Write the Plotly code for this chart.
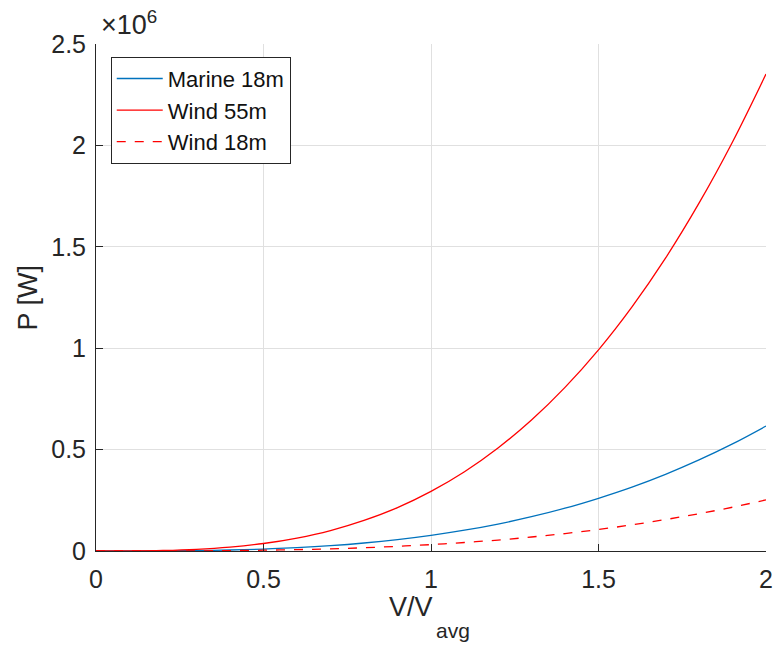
import plotly.graph_objects as go

v_ratio = [0.0, 0.1, 0.2, 0.3, 0.4, 0.5, 0.6, 0.7, 0.8, 0.9, 1.0,
           1.1, 1.2, 1.3, 1.4, 1.5, 1.6, 1.7, 1.8, 1.9, 2.0]
marine_18m = [0, 0.0001, 0.0006, 0.0021, 0.0049, 0.0096, 0.0166, 0.0264, 0.0394, 0.0561, 0.077,
              0.1025, 0.133, 0.169, 0.211, 0.260, 0.315, 0.378, 0.449, 0.528, 0.616]
wind_55m = [0, 0.0003, 0.0024, 0.008, 0.019, 0.037, 0.064, 0.101, 0.151, 0.214, 0.294,
            0.391, 0.508, 0.646, 0.807, 0.992, 1.204, 1.444, 1.715, 2.017, 2.352]
wind_18m = [0, 0.00003, 0.0003, 0.0009, 0.002, 0.0039, 0.0068, 0.0108, 0.0161, 0.023, 0.0315,
            0.042, 0.054, 0.069, 0.086, 0.106, 0.129, 0.155, 0.184, 0.216, 0.252]
x_ticks = [0, 0.5, 1, 1.5, 2]
y_ticks = [0, 0.5, 1, 1.5, 2, 2.5]

font = "Liberation Sans, Arial, sans-serif"
ink = "#262626"

fig = go.Figure()
fig.add_trace(go.Scatter(x=v_ratio, y=marine_18m, mode="lines", name="Marine 18m",
                         line=dict(color="#0072BD", width=1.3, shape="spline")))
fig.add_trace(go.Scatter(x=v_ratio, y=wind_55m, mode="lines", name="Wind 55m",
                         line=dict(color="#FF0000", width=1.3, shape="spline")))
fig.add_trace(go.Scatter(x=v_ratio, y=wind_18m, mode="lines", name="Wind 18m",
                         line=dict(color="#FF0000", width=1.3, dash="dash", shape="spline")))

axis_common = dict(showgrid=True, gridcolor="#e0e0e0", gridwidth=1,
                   showline=True, linecolor=ink, linewidth=1,
                   ticks="inside", ticklen=7, tickcolor=ink,
                   tickfont=dict(family=font, size=25, color=ink),
                   zeroline=False, automargin=False)

fig.update_layout(
    width=777, height=646,
    margin=dict(l=96, r=11, t=44, b=95),
    plot_bgcolor="white", paper_bgcolor="white",
    xaxis=dict(range=[0, 2], tickvals=x_ticks, ticktext=[str(t) for t in x_ticks],
               ticklabelstandoff=6, **axis_common),
    yaxis=dict(range=[0, 2.5], tickvals=y_ticks, ticktext=[str(t) for t in y_ticks],
               ticklabelstandoff=4, **axis_common),
    legend=dict(x=0.022, y=0.975, xanchor="left", yanchor="top",
                bgcolor="white", bordercolor=ink, borderwidth=1,
                font=dict(family=font, size=22, color="#111111"),
                tracegroupgap=0, itemwidth=46),
    showlegend=True,
)
fig.add_annotation(xref="paper", yref="paper", x=0.0, y=1.0, xanchor="left", yanchor="bottom",
                   text="×10<sup>6</sup>", showarrow=False, xshift=3, yshift=2,
                   font=dict(family=font, size=27, color=ink))
# x-axis title: "V/V" with a dropped "avg" subscript
x_title_split = 0.506
fig.add_annotation(xref="paper", yref="paper", x=x_title_split, y=0.0, xanchor="right", yanchor="middle",
                   text="V/V", showarrow=False, yshift=-56,
                   font=dict(family=font, size=27, color=ink))
fig.add_annotation(xref="paper", yref="paper", x=x_title_split, y=0.0, xanchor="left", yanchor="middle",
                   text="avg", showarrow=False, yshift=-79, xshift=-1,
                   font=dict(family=font, size=21, color=ink))
fig.add_annotation(xref="paper", yref="paper", x=0.0, y=0.5, xanchor="right", yanchor="middle",
                   text="P [W]", showarrow=False, textangle=-90, xshift=-52,
                   font=dict(family=font, size=27, color=ink))

fig.write_html("out.html")
